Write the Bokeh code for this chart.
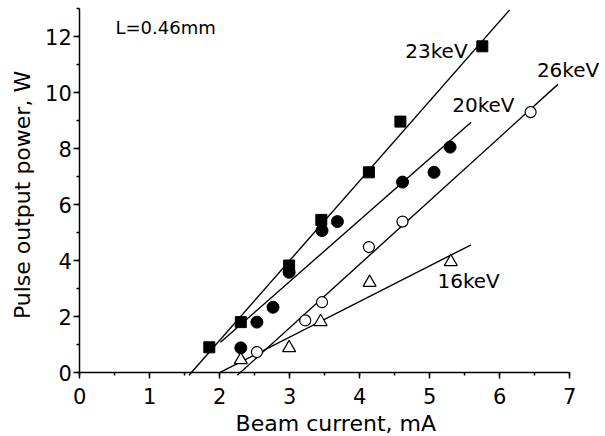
from bokeh.plotting import figure
from bokeh.models import Range1d, SingleIntervalTicker, Label
from bokeh.embed import file_html
from bokeh.resources import INLINE

# ---- data ----
current_23 = [1.85, 2.30, 2.99, 3.45, 4.13, 4.58, 5.75]
power_23 = [0.90, 1.80, 3.82, 5.45, 7.15, 8.96, 11.65]

current_20 = [2.30, 2.53, 2.76, 2.99, 3.46, 3.68, 4.61, 5.06, 5.29]
power_20 = [0.88, 1.80, 2.33, 3.58, 5.07, 5.39, 6.80, 7.15, 8.05]

current_26 = [2.53, 3.22, 3.46, 4.13, 4.61, 6.44]
power_26 = [0.73, 1.86, 2.51, 4.48, 5.39, 9.30]

current_16 = [2.30, 2.99, 3.44, 4.14, 5.30]
power_16 = [0.45, 0.88, 1.81, 3.21, 3.95]

# linear fit lines (end points)
fit_x_23 = [1.56, 6.14]
fit_y_23 = [-0.10, 12.95]
fit_x_20 = [2.01, 5.59]
fit_y_20 = [1.08, 8.94]
fit_x_26 = [2.25, 6.83]
fit_y_26 = [-0.10, 10.29]
fit_x_16 = [2.01, 5.59]
fit_y_16 = [0.01, 4.56]

x_ticks_max = 7
y_axis_max = 13

FONT = "DejaVu Sans"

W, H = 605, 436
X0, Y0 = 79.3, 372.0      # pixel position of the data origin
PX_X, PX_Y = 70.0, 28.0   # pixels per data unit

# frame covers the whole canvas; axes are drawn at fixed data locations
p = figure(width=W, height=H, output_backend="svg", toolbar_location=None,
           x_range=Range1d(-X0 / PX_X, (W - X0) / PX_X),
           y_range=Range1d(-(H - Y0) / PX_Y, Y0 / PX_Y),
           min_border_left=0, min_border_right=0, min_border_top=0, min_border_bottom=0)
p.outline_line_color = None
p.grid.visible = False
p.background_fill_color = "white"
p.border_fill_color = "white"

p.xaxis.ticker = SingleIntervalTicker(interval=1, num_minor_ticks=2)
p.yaxis.ticker = SingleIntervalTicker(interval=2, num_minor_ticks=2)
p.xaxis.fixed_location = 0
p.yaxis.fixed_location = 0
p.xaxis.bounds = (0, x_ticks_max)
p.yaxis.bounds = (0, y_axis_max)
for ax in (p.xaxis, p.yaxis):
    ax.axis_line_color = "black"
    ax.axis_line_width = 1.5
    ax.major_tick_line_color = "black"
    ax.major_tick_line_width = 1.5
    ax.minor_tick_line_color = "black"
    ax.minor_tick_line_width = 1.5
    ax.major_tick_out = 6
    ax.major_tick_in = 0
    ax.minor_tick_out = 3
    ax.minor_tick_in = 0
    ax.major_label_text_font = FONT
    ax.major_label_text_font_size = "21px"
    ax.major_label_text_color = "black"
p.xaxis.major_label_standoff = 9
p.yaxis.major_label_standoff = 2

# fit lines
for fx, fy in ((fit_x_23, fit_y_23), (fit_x_20, fit_y_20), (fit_x_26, fit_y_26), (fit_x_16, fit_y_16)):
    p.line(fx, fy, line_color="black", line_width=1.4)

# markers
p.scatter(current_23, power_23, marker="square", size=11, fill_color="black", line_color="black")
p.scatter(current_20, power_20, marker="circle", size=12, fill_color="black", line_color="black")
p.scatter(current_26, power_26, marker="circle", size=11, fill_color="white", line_color="black", line_width=1.2)
p.scatter(current_16, power_16, marker="triangle", size=13, fill_color="white", line_color="black", line_width=1.2)

# annotations (y = vertical centre of the text)
def add_text(x, y, t, size="20px", align="left", angle=0):
    p.add_layout(Label(x=x, y=y, text=t, text_font=FONT, text_font_size=size,
                       text_color="black", text_align=align, text_baseline="middle",
                       angle=angle, angle_units="deg"))

add_text(0.51, 12.32, "L=0.46mm", "18px")
add_text(4.65, 11.48, "23keV")
add_text(5.32, 9.54, "20keV")
add_text(6.53, 10.79, "26keV")
add_text(5.11, 3.26, "16keV")

# axis titles
add_text(3.657, -1.82, "Beam current, mA", "22px", align="center")
add_text(-0.823, 6.34, "Pulse output power, W", "22px", align="center", angle=90)

open("out.html", "w").write(file_html(p, INLINE))
